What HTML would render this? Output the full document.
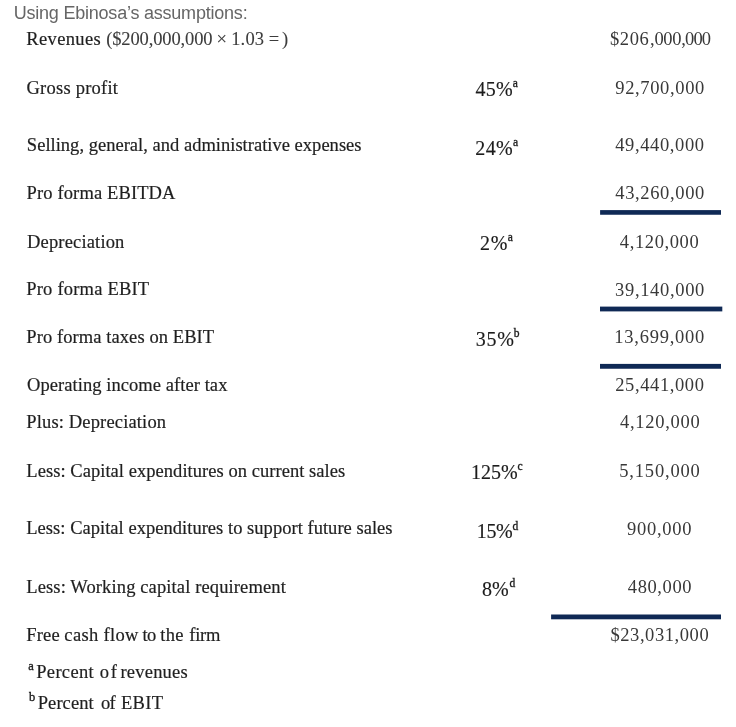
<!DOCTYPE html><html><head><meta charset="utf-8"><title>Using Ebinosa’s assumptions</title><style>
*{margin:0;padding:0;box-sizing:border-box}
html,body{width:736px;height:727px;background:#fff;overflow:hidden}
body{position:relative;font-family:'Liberation Serif', serif;filter:blur(0.3px)}
.t{position:absolute;white-space:nowrap;line-height:20px;height:20px}
.s,.n,.p{font-family:'Liberation Serif', serif}
.s{color:#1f1f1f;-webkit-text-stroke:0.2px #1f1f1f}
.n{color:#383838}
.m{font-family:'Liberation Serif', serif;color:#3c3c3c;-webkit-text-stroke:0.1px #3c3c3c}
.p{color:#1c1c1c;-webkit-text-stroke:0.15px #1c1c1c}
.a{font-family:'Liberation Sans', sans-serif;color:#666}
.u{-webkit-text-stroke:0.35px #1c1c1c}
.ln{position:absolute;left:0;top:0;display:block}

</style></head><body>
<div class="t a" id="h" style="left:13.66px;top:3px;font-size:18px;letter-spacing:-0.215px">Using Ebinosa’s assumptions:</div>
<div class="t s" id="l1a" style="left:26.31px;top:29px;font-size:18.5px;letter-spacing:0.362px">Revenues</div>
<div class="t m" id="l1b" style="left:106.22px;top:29px;font-size:18.5px;letter-spacing:-0.130px">($200,000,000</div>
<div class="t m" id="l1c" style="left:216.59px;top:29px;font-size:18.5px;letter-spacing:0.074px">×</div>
<div class="t m" id="l1d" style="left:231.13px;top:29px;font-size:18.5px;letter-spacing:0.194px">1.03</div>
<div class="t m" id="l1e" style="left:268.84px;top:29px;font-size:18.5px;letter-spacing:0.074px">=</div>
<div class="t m" id="l1f" style="left:282.05px;top:29px;font-size:18.5px;letter-spacing:0.074px">)</div>
<div class="t s" id="l2" style="left:26.50px;top:78px;font-size:18.5px;letter-spacing:0.231px">Gross profit</div>
<div class="t s" id="l3" style="left:26.85px;top:135px;font-size:18.5px;letter-spacing:0.017px">Selling, general, and administrative expenses</div>
<div class="t s" id="l4" style="left:26.61px;top:183px;font-size:18.5px;letter-spacing:0.128px">Pro forma EBITDA</div>
<div class="t s" id="l5" style="left:27.04px;top:232px;font-size:18.5px;letter-spacing:0.163px">Depreciation</div>
<div class="t s" id="l6" style="left:26.25px;top:279px;font-size:18.5px;letter-spacing:0.206px">Pro forma EBIT</div>
<div class="t s" id="l7" style="left:26.25px;top:327px;font-size:18.5px;letter-spacing:0.088px">Pro forma taxes on EBIT</div>
<div class="t s" id="l8" style="left:27.00px;top:375px;font-size:18.5px;letter-spacing:0.064px">Operating income after tax</div>
<div class="t s" id="l9" style="left:26.27px;top:412px;font-size:18.5px;letter-spacing:0.154px">Plus: Depreciation</div>
<div class="t s" id="l10" style="left:26.35px;top:461px;font-size:18.5px;letter-spacing:0.044px">Less: Capital expenditures on current sales</div>
<div class="t s" id="l11" style="left:26.27px;top:518px;font-size:18.5px;letter-spacing:0.031px">Less: Capital expenditures to support future sales</div>
<div class="t s" id="l12" style="left:26.27px;top:577px;font-size:18.5px;letter-spacing:0.124px">Less: Working capital requirement</div>
<div class="t s" id="l13a" style="left:26.25px;top:625px;font-size:18.5px;letter-spacing:0.159px">Free</div>
<div class="t s" id="l13b" style="left:64.32px;top:625px;font-size:18.5px;letter-spacing:0.377px">cash</div>
<div class="t s" id="l13c" style="left:103.49px;top:625px;font-size:18.5px;letter-spacing:0.320px">flow</div>
<div class="t s" id="l13d" style="left:142.53px;top:625px;font-size:18.5px;letter-spacing:-0.734px">to</div>
<div class="t s" id="l13e" style="left:160.28px;top:625px;font-size:18.5px;letter-spacing:0.335px">the</div>
<div class="t s" id="l13f" style="left:189.36px;top:625px;font-size:18.5px;letter-spacing:-0.283px">firm</div>
<div class="t s u" id="f1s" style="left:28.30px;top:656px;font-size:12.5px">a</div>
<div class="t s" id="f1a" style="left:36.28px;top:662px;font-size:18.5px;letter-spacing:0.314px">Percent</div>
<div class="t s" id="f1b" style="left:99.72px;top:662px;font-size:18.5px;letter-spacing:1.874px">of</div>
<div class="t s" id="f1c" style="left:120.50px;top:662px;font-size:18.5px;letter-spacing:0.206px">revenues</div>
<div class="t s u" id="f2s" style="left:29.05px;top:687px;font-size:12.5px">b</div>
<div class="t s" id="f2a" style="left:37.74px;top:693px;font-size:18.5px;letter-spacing:0.076px">Percent</div>
<div class="t s" id="f2b" style="left:101.00px;top:693px;font-size:18.5px;letter-spacing:-0.684px">of</div>
<div class="t s" id="f2c" style="left:121.00px;top:693px;font-size:18.5px;letter-spacing:0.276px">EBIT</div>
<div class="t n" id="n1a" style="left:610.00px;top:29px;font-size:18.5px;letter-spacing:0.608px">$206</div>
<div class="t n" id="n1b" style="left:650.12px;top:29px;font-size:18.5px;letter-spacing:-0.312px">,000</div>
<div class="t n" id="n1c" style="left:681.32px;top:29px;font-size:18.5px;letter-spacing:-0.879px">,000</div>
<div class="t n" id="n2" style="left:615.34px;top:78px;font-size:18.5px;letter-spacing:0.634px">92,700,000</div>
<div class="t n" id="n3" style="left:615.26px;top:135px;font-size:18.5px;letter-spacing:0.616px">49,440,000</div>
<div class="t n" id="n4" style="left:615.26px;top:183px;font-size:18.5px;letter-spacing:0.642px">43,260,000</div>
<div class="t n" id="n5" style="left:619.84px;top:232px;font-size:18.5px;letter-spacing:0.606px">4,120,000</div>
<div class="t n" id="n6" style="left:615.08px;top:280px;font-size:18.5px;letter-spacing:0.663px">39,140,000</div>
<div class="t n" id="n7" style="left:614.35px;top:327px;font-size:18.5px;letter-spacing:0.740px">13,699,000</div>
<div class="t n" id="n8" style="left:615.26px;top:375px;font-size:18.5px;letter-spacing:0.601px">25,441,000</div>
<div class="t n" id="n9" style="left:619.90px;top:412px;font-size:18.5px;letter-spacing:0.741px">4,120,000</div>
<div class="t n" id="n10" style="left:619.29px;top:461px;font-size:18.5px;letter-spacing:0.817px">5,150,000</div>
<div class="t n" id="n11" style="left:626.99px;top:519px;font-size:18.5px;letter-spacing:0.743px">900,000</div>
<div class="t n" id="n12" style="left:627.84px;top:577px;font-size:18.5px;letter-spacing:0.591px">480,000</div>
<div class="t n" id="n13" style="left:610.41px;top:625px;font-size:18.5px;letter-spacing:0.579px">$23,031,000</div>
<div class="t p" id="p1" style="left:475.57px;top:79px;font-size:20px;letter-spacing:0.257px">45%</div>
<div class="t p u" id="p1s" style="left:512.78px;top:73px;font-size:11.5px">a</div>
<div class="t p" id="p2" style="left:475.23px;top:138px;font-size:20px;letter-spacing:0.420px">24%</div>
<div class="t p u" id="p2s" style="left:513.02px;top:132px;font-size:11.5px">a</div>
<div class="t p" id="p3" style="left:479.97px;top:233px;font-size:20px;letter-spacing:0.806px">2%</div>
<div class="t p u" id="p3s" style="left:507.67px;top:227px;font-size:11.5px">a</div>
<div class="t p" id="p4" style="left:475.75px;top:329px;font-size:20px;letter-spacing:0.700px">35%</div>
<div class="t p u" id="p4s" style="left:513.70px;top:323px;font-size:11.5px">b</div>
<div class="t p" id="p5" style="left:471.10px;top:462px;font-size:20px;letter-spacing:0.001px">125%</div>
<div class="t p u" id="p5s" style="left:517.55px;top:456px;font-size:11.5px">c</div>
<div class="t p" id="p6" style="left:476.80px;top:521px;font-size:20px;letter-spacing:-0.370px">15%</div>
<div class="t p u" id="p6s" style="left:512.56px;top:516px;font-size:11.5px">d</div>
<div class="t p" id="p7" style="left:481.92px;top:579px;font-size:20px;letter-spacing:-0.018px">8%</div>
<div class="t p u" id="p7s" style="left:509.52px;top:573px;font-size:11.5px">d</div>
<svg class="ln" width="736" height="727" viewBox="0 0 736 727">
<rect x="600.1" y="210.1" width="120.9" height="4.65" fill="#0f2955"/>
<rect x="600.0" y="306.6" width="122.3" height="4.8" fill="#0f2955"/>
<rect x="600.0" y="363.9" width="121.0" height="4.85" fill="#0f2955"/>
<rect x="551.1" y="614.5" width="169.9" height="4.8" fill="#0f2955"/>
</svg>
</body></html>
